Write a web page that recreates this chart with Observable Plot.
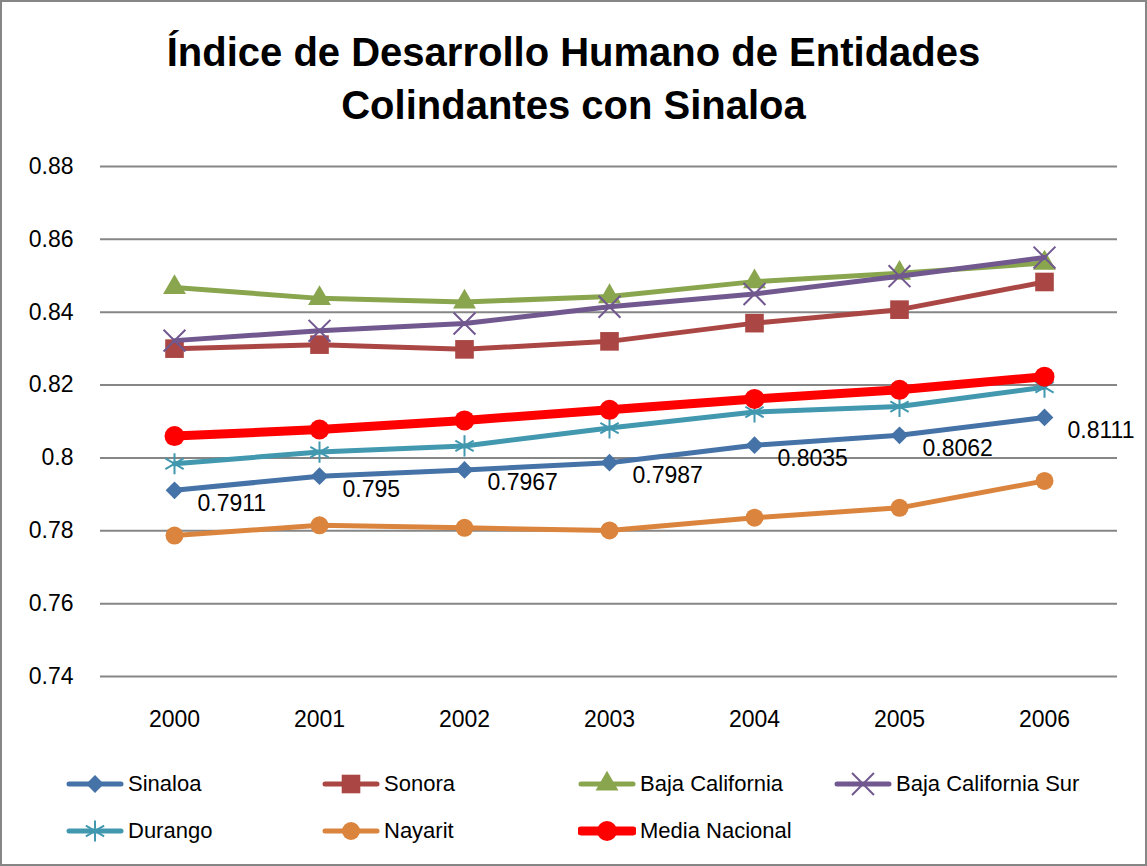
<!DOCTYPE html>
<html>
<head>
<meta charset="utf-8">
<script src="https://cdn.jsdelivr.net/npm/d3@7"></script>
<script src="https://cdn.jsdelivr.net/npm/@observablehq/plot@0.6"></script>
<style>
  html, body { margin: 0; padding: 0; background: #fff; }
  #page { position: relative; width: 1147px; height: 866px; overflow: hidden; background: #fff; font-family: "Liberation Sans", Arial, sans-serif; }
  #frame { position: absolute; left: 0; top: 0; width: 1147px; height: 866px; box-sizing: border-box; border: 2px solid #868686; pointer-events: none; }
  #title { position: absolute; left: 0; top: 0; width: 1147px; text-align: center; font-weight: bold; font-size: 40px; line-height: 53px; padding-top: 26px; color: #000; }
  #chart { position: absolute; left: 0; top: 145px; }
  .leg { position: absolute; display: flex; align-items: center; font-size: 22px; color: #000; white-space: nowrap; }
  .leg svg { margin-right: 4px; }
</style>
</head>
<body>
<div id="page">
  <div id="title">Índice de Desarrollo Humano de Entidades<br>Colindantes con Sinaloa</div>
  <div id="chart"></div>
  <div id="legend"></div>
  <div id="frame"></div>
</div>
<script>
const years = [2000, 2001, 2002, 2003, 2004, 2005, 2006];
const sinaloa        = [0.7911, 0.795, 0.7967, 0.7987, 0.8035, 0.8062, 0.8111];
const sonora         = [0.8300, 0.8311, 0.8298, 0.8320, 0.8370, 0.8407, 0.8483];
const bajaCalifornia = [0.8468, 0.8438, 0.8428, 0.8443, 0.8484, 0.8507, 0.8535];
const bajaCalSur     = [0.8322, 0.8349, 0.8369, 0.8415, 0.8450, 0.8499, 0.8550];
const durango        = [0.7984, 0.8016, 0.8033, 0.8082, 0.8126, 0.8141, 0.8194];
const nayarit        = [0.7787, 0.7815, 0.7808, 0.7801, 0.7836, 0.7863, 0.7937];
const mediaNacional  = [0.8060, 0.8078, 0.8103, 0.8132, 0.8162, 0.8187, 0.8223];
const seriesNames = ["Sinaloa", "Sonora", "Baja California", "Baja California Sur", "Durango", "Nayarit", "Media Nacional"];
const yTicks = [0.74, 0.76, 0.78, 0.80, 0.82, 0.84, 0.86, 0.88];
const yTickLabels = ["0.74", "0.76", "0.78", "0.8", "0.82", "0.84", "0.86", "0.88"];
const sinaloaLabels = ["0.7911", "0.795", "0.7967", "0.7987", "0.8035", "0.8062", "0.8111"];

const seriesValues = [sinaloa, sonora, bajaCalifornia, bajaCalSur, durango, nayarit, mediaNacional];
const styles = [
  {color: "#4572A7", symbol: "diamond2", r: 8,    fill: true,  lw: 5},
  {color: "#AA4643", symbol: "square",   r: 10.5, fill: true,  lw: 5},
  {color: "#89A54E", symbol: "triangle", r: 8.5,  fill: true,  lw: 5},
  {color: "#71588F", symbol: "times",    r: 10,   fill: false, lw: 5},
  {color: "#4198AF", symbol: "asterisk", r: 10,   fill: false, lw: 5},
  {color: "#DB843D", symbol: "circle",   r: 9,    fill: true,  lw: 5},
  {color: "#FF0000", symbol: "circle",   r: 10,   fill: true,  lw: 9}
];

const marks = [
  Plot.ruleY(yTicks, {stroke: "#868686", strokeWidth: 2}),
  Plot.axisY({ticks: yTicks, tickSize: 0, tickPadding: 27, fontSize: 23,
    tickFormat: d => yTickLabels[yTicks.findIndex(t => Math.abs(t - d) < 1e-9)]}),
  Plot.axisX({tickSize: 0, tickPadding: 34, fontSize: 23, tickFormat: d => String(d)})
];
seriesNames.forEach((name, i) => {
  const data = years.map((y, j) => ({year: y, value: seriesValues[i][j]}));
  const s = styles[i];
  marks.push(Plot.line(data, {x: "year", y: "value", stroke: s.color, strokeWidth: s.lw, curve: "linear", strokeLinejoin: "round", strokeLinecap: "round"}));
  marks.push(Plot.dot(data, {x: "year", y: "value", symbol: () => s.symbol, r: s.r,
    fill: s.fill ? s.color : "none", stroke: s.color, strokeWidth: s.fill ? 0 : 2}));
  if (i === 0) {
    marks.push(Plot.text(data, {x: "year", y: "value", text: (d, j) => sinaloaLabels[j], dx: 23, dy: 13, textAnchor: "start", fontSize: 23, fill: "#000"}));
  }
});

const chart = Plot.plot({
  width: 1147,
  height: 600,
  marginTop: 21,
  marginBottom: 69,
  marginLeft: 100,
  marginRight: 30,
  style: {fontFamily: "'Liberation Sans', Arial, sans-serif", fontSize: "23px", color: "#000", background: "transparent", overflow: "visible"},
  x: {type: "point", domain: years, padding: 0.5, label: null},
  y: {domain: [0.74, 0.88], label: null},
  symbol: {type: "identity"},
  marks
});
document.getElementById("chart").appendChild(chart);

// legend
const legend = document.getElementById("legend");
const symbolMap = {diamond2: d3.symbolDiamond2, square: d3.symbolSquare, triangle: d3.symbolTriangle, times: d3.symbolTimes, asterisk: d3.symbolAsterisk, circle: d3.symbolCircle};
seriesNames.forEach((name, i) => {
  const s = styles[i];
  const col = i % 4, row = Math.floor(i / 4);
  const div = document.createElement("div");
  div.className = "leg";
  div.style.left = (66 + col * 256) + "px";
  div.style.top = (784 + row * 47 - 14) + "px";
  div.style.height = "28px";
  const svg = d3.create("svg").attr("width", 58).attr("height", 28);
  svg.append("line").attr("x1", 3).attr("x2", 55).attr("y1", 14).attr("y2", 14)
    .attr("stroke", s.color).attr("stroke-width", s.lw).attr("stroke-linecap", "round");
  svg.append("path").attr("transform", "translate(29,14)")
    .attr("d", d3.symbol(symbolMap[s.symbol], Math.PI * s.r * s.r)())
    .attr("fill", s.fill ? s.color : "none").attr("stroke", s.color).attr("stroke-width", s.fill ? 0 : 2);
  div.appendChild(svg.node());
  const span = document.createElement("span");
  span.textContent = name;
  div.appendChild(span);
  legend.appendChild(div);
});
</script>
</body>
</html>
